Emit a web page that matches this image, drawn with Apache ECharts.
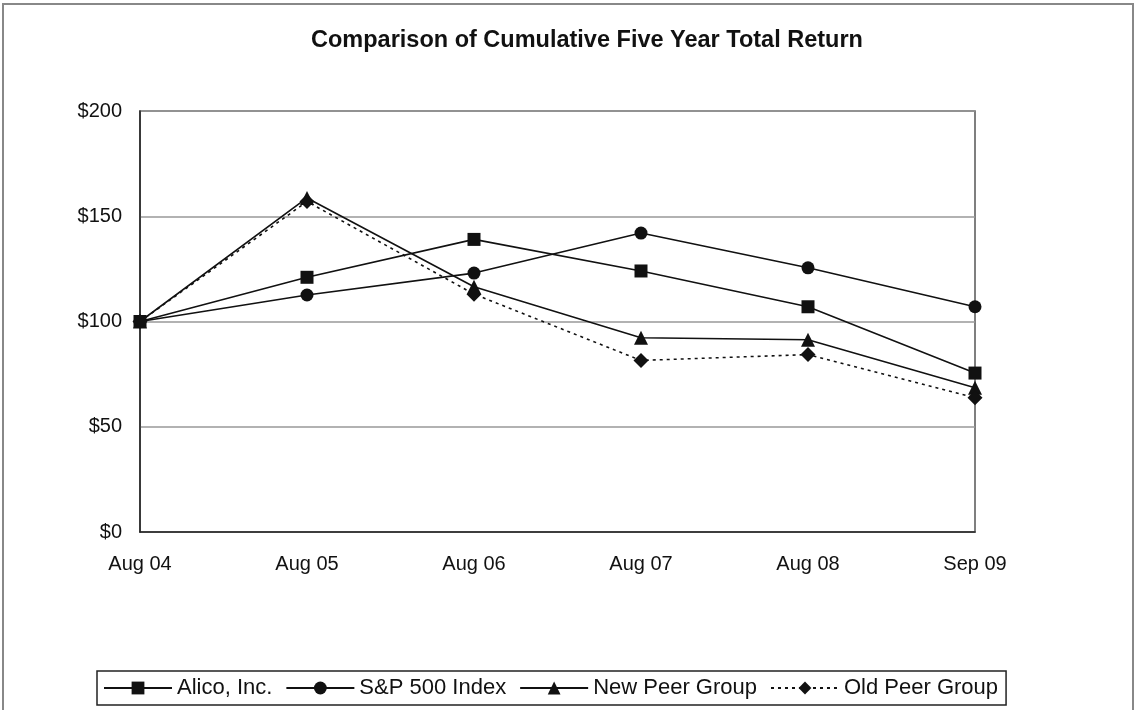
<!DOCTYPE html>
<html>
<head>
<meta charset="utf-8">
<style>
  html, body { margin: 0; padding: 0; background: #fff; }
  #chart { width: 1135px; height: 710px; }
</style>
<script src="https://cdn.jsdelivr.net/npm/echarts@6/dist/echarts.min.js"></script>
</head>
<body>
<div id="chart"></div>
<script>
const categories = ['Aug 04', 'Aug 05', 'Aug 06', 'Aug 07', 'Aug 08', 'Sep 09']
const alico = [100, 121, 139, 124, 107, 75.5]
const sp500 = [100, 112.6, 123, 142, 125.5, 107]
const newPeer = [100, 158.7, 116.5, 92.3, 91.3, 68.5]
const oldPeer = [100, 157, 113, 81.5, 84.3, 63.8]

const chart = echarts.init(document.getElementById('chart'))

const mkSeries = (name, data, symbol, size, dashed) => ({
  name,
  type: 'line',
  data,
  symbol,
  symbolSize: size,
  showSymbol: true,
  lineStyle: { color: '#111', width: 1.6, type: dashed ? [3, 4] : 'solid' },
  itemStyle: { color: '#111', borderWidth: 0 },
  emphasis: { disabled: true }
})

chart.setOption({
  animation: false,
  textStyle: { fontFamily: 'Liberation Sans, Arial, sans-serif', color: '#111' },
  title: {
    text: 'Comparison of Cumulative Five Year Total Return',
    left: 306,
    top: 24,
    textStyle: { fontSize: 23.5, fontWeight: 'bold', color: '#111' }
  },
  graphic: [
    { type: 'polyline', shape: { points: [[3, 710], [3, 4], [1133, 4], [1133, 710]] },
      style: { stroke: '#888', lineWidth: 2, fill: null } }
  ],
  legend: {
    bottom: 5,
    left: 97,
    itemWidth: 68,
    itemHeight: 16,
    itemGap: 13,
    padding: [6, 8, 6, 6],
    borderColor: '#222',
    borderWidth: 1.5,
    textStyle: { fontSize: 22, color: '#111' },
    data: ['Alico, Inc.', 'S&P 500 Index', 'New Peer Group', 'Old Peer Group']
  },
  grid: {
    left: 140, right: 160, top: 111, bottom: 178,
    show: true, borderColor: '#555', borderWidth: 1.5
  },
  xAxis: {
    type: 'category',
    data: categories,
    boundaryGap: false,
    axisLine: { lineStyle: { color: '#222', width: 1.5 } },
    axisTick: { show: false },
    axisLabel: { fontSize: 20, color: '#111', margin: 22 }
  },
  yAxis: {
    type: 'value',
    min: 0, max: 200, interval: 50,
    axisLine: { show: true, lineStyle: { color: '#222', width: 1.5 } },
    axisTick: { show: false },
    splitLine: { lineStyle: { color: '#999', width: 1.5 } },
    axisLabel: { fontSize: 20, color: '#111', margin: 18, formatter: v => '$' + v }
  },
  series: [
    mkSeries('Alico, Inc.', alico, 'rect', 13, false),
    mkSeries('S&P 500 Index', sp500, 'circle', 13, false),
    mkSeries('New Peer Group', newPeer, 'triangle', 14, false),
    mkSeries('Old Peer Group', oldPeer, 'diamond', 15, true)
  ]
})
</script>
</body>
</html>
